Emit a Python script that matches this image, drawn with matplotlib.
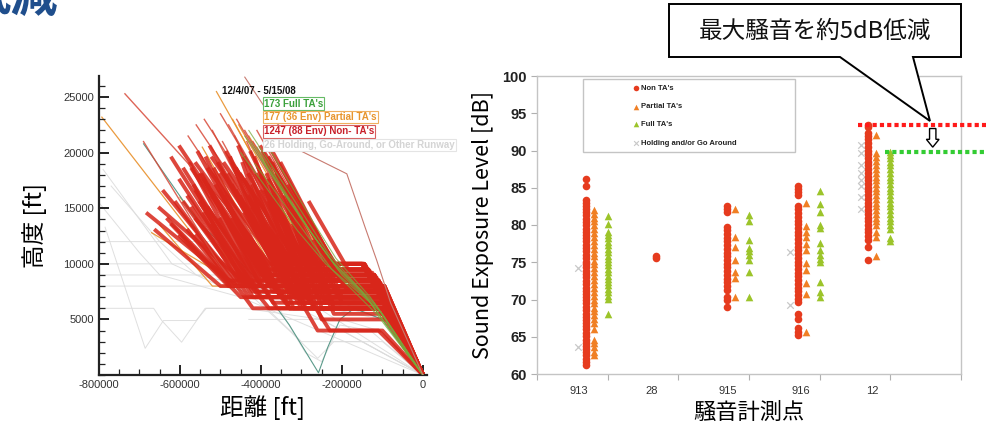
import matplotlib
matplotlib.use("Agg")
import matplotlib.pyplot as plt
from matplotlib.patches import Polygon, Rectangle
from matplotlib.ticker import MultipleLocator, FixedLocator

plt.rcParams['font.family'] = ['Liberation Sans', 'Noto Sans CJK JP', 'DejaVu Sans']
JP = ['Noto Sans CJK JP', 'DejaVu Sans']

# ---------------- data: left panel (approach trajectories, distance ft / altitude ft) -------------
# Non-TA tracks: (start dist, start alt, level-off dist, level alt, level end dist) -> then to runway
red_tracks = [
    (-620e3, 19.5e3, -420e3, 8.0e3, -100e3), (-600e3, 20.5e3, -390e3, 9.0e3, -130e3),
    (-580e3, 21.5e3, -360e3, 9.5e3, -140e3), (-560e3, 22.5e3, -330e3, 10.0e3, -150e3),
    (-540e3, 23.0e3, -310e3, 10.0e3, -145e3), (-520e3, 22.0e3, -320e3, 8.0e3, -105e3),
    (-500e3, 23.5e3, -280e3, 10.0e3, -150e3), (-480e3, 22.5e3, -270e3, 9.0e3, -120e3),
    (-460e3, 23.0e3, -250e3, 10.0e3, -140e3), (-440e3, 22.0e3, -240e3, 9.5e3, -135e3),
    (-420e3, 21.0e3, -230e3, 10.0e3, -150e3), (-400e3, 20.5e3, -220e3, 10.0e3, -145e3),
    (-380e3, 19.5e3, -215e3, 9.0e3, -125e3), (-360e3, 18.0e3, -230e3, 8.0e3, -100e3),
    (-600e3, 17.5e3, -430e3, 8.0e3, -95e3), (-590e3, 18.5e3, -410e3, 8.0e3, -100e3),
    (-575e3, 19.0e3, -400e3, 7.0e3, -105e3), (-565e3, 17.0e3, -440e3, 8.0e3, -100e3),
    (-555e3, 20.0e3, -380e3, 8.5e3, -110e3), (-545e3, 18.0e3, -400e3, 8.0e3, -95e3),
    (-535e3, 19.5e3, -370e3, 7.5e3, -100e3), (-525e3, 20.5e3, -350e3, 9.0e3, -120e3),
    (-515e3, 18.5e3, -360e3, 8.0e3, -100e3), (-505e3, 19.0e3, -340e3, 8.0e3, -105e3),
    (-495e3, 21.0e3, -320e3, 9.5e3, -130e3), (-485e3, 20.0e3, -325e3, 8.0e3, -100e3),
    (-475e3, 19.5e3, -330e3, 6.0e3, -95e3), (-465e3, 21.5e3, -300e3, 9.0e3, -125e3),
    (-455e3, 20.5e3, -300e3, 7.0e3, -100e3), (-445e3, 19.0e3, -320e3, 6.0e3, -90e3),
    (-435e3, 21.0e3, -280e3, 8.0e3, -100e3), (-425e3, 20.0e3, -270e3, 8.5e3, -110e3),
    (-415e3, 19.5e3, -280e3, 6.5e3, -95e3), (-405e3, 18.5e3, -290e3, 6.0e3, -100e3),
    (-395e3, 20.0e3, -250e3, 8.0e3, -100e3), (-385e3, 18.0e3, -260e3, 7.0e3, -100e3),
    (-375e3, 17.0e3, -270e3, 6.0e3, -95e3), (-370e3, 19.0e3, -240e3, 8.0e3, -105e3),
    (-350e3, 17.5e3, -240e3, 7.5e3, -100e3), (-340e3, 16.0e3, -250e3, 6.0e3, -90e3),
    (-650e3, 15.0e3, -430e3, 8.0e3, -100e3), (-640e3, 16.5e3, -450e3, 8.0e3, -95e3),
    (-630e3, 14.0e3, -470e3, 8.0e3, -100e3), (-660e3, 13.0e3, -500e3, 8.0e3, -100e3),
    (-620e3, 13.5e3, -450e3, 7.0e3, -105e3), (-610e3, 15.5e3, -420e3, 6.0e3, -100e3),
    (-600e3, 12.5e3, -480e3, 8.0e3, -95e3), (-680e3, 14.5e3, -460e3, 8.0e3, -100e3),
    (-736e3, 25.3e3, -330e3, 9.0e3, -130e3), (-690e3, 21.0e3, -470e3, 8.0e3, -100e3),
    (-410e3, 22.0e3, -225e3, 10.0e3, -150e3), (-390e3, 21.0e3, -210e3, 9.5e3, -140e3),
    (-370e3, 20.0e3, -205e3, 9.0e3, -120e3), (-350e3, 19.0e3, -200e3, 8.5e3, -115e3),
    (-330e3, 17.0e3, -195e3, 8.0e3, -100e3), (-560e3, 14.0e3, -380e3, 6.0e3, -100e3),
    (-530e3, 15.0e3, -360e3, 6.0e3, -110e3), (-500e3, 16.5e3, -330e3, 6.0e3, -95e3),
    (-470e3, 17.0e3, -300e3, 6.0e3, -100e3), (-450e3, 16.0e3, -260e3, 4.0e3, -100e3),
    (-420e3, 15.0e3, -230e3, 4.0e3, -110e3), (-520e3, 16.0e3, -350e3, 7.0e3, -100e3),
    (-480e3, 15.0e3, -360e3, 7.5e3, -100e3), (-440e3, 17.5e3, -310e3, 7.0e3, -95e3),
    (-400e3, 16.5e3, -280e3, 7.5e3, -100e3), (-380e3, 15.5e3, -280e3, 6.5e3, -90e3),
    (-360e3, 14.5e3, -280e3, 8.0e3, -100e3), (-340e3, 13.0e3, -250e3, 5.0e3, -85e3),
    (-300e3, 12.0e3, -220e3, 5.5e3, -90e3), (-310e3, 14.5e3, -210e3, 7.0e3, -95e3),
    # dense core
    (-570e3, 18.5e3, -400e3, 9.0e3, -130e3), (-560e3, 19.0e3, -380e3, 10.0e3, -150e3),
    (-550e3, 18.0e3, -390e3, 9.5e3, -140e3), (-540e3, 17.5e3, -390e3, 8.5e3, -110e3),
    (-530e3, 18.5e3, -360e3, 10.0e3, -145e3), (-520e3, 19.5e3, -340e3, 10.0e3, -150e3),
    (-510e3, 17.0e3, -370e3, 9.0e3, -125e3), (-500e3, 18.0e3, -340e3, 9.5e3, -135e3),
    (-490e3, 19.0e3, -320e3, 10.0e3, -150e3), (-480e3, 18.0e3, -330e3, 9.0e3, -120e3),
    (-470e3, 19.0e3, -300e3, 10.0e3, -145e3), (-460e3, 18.5e3, -310e3, 8.5e3, -110e3),
    (-450e3, 18.0e3, -300e3, 9.5e3, -140e3), (-440e3, 19.5e3, -290e3, 10.0e3, -150e3),
    (-430e3, 18.0e3, -290e3, 9.0e3, -125e3), (-420e3, 17.0e3, -300e3, 8.0e3, -100e3),
    (-410e3, 18.0e3, -270e3, 10.0e3, -145e3), (-400e3, 17.5e3, -270e3, 9.0e3, -120e3),
    (-390e3, 16.5e3, -270e3, 8.5e3, -110e3), (-380e3, 17.5e3, -250e3, 9.5e3, -140e3),
    (-580e3, 16.0e3, -420e3, 7.5e3, -100e3), (-570e3, 15.0e3, -430e3, 7.0e3, -95e3),
    (-560e3, 16.5e3, -400e3, 8.0e3, -100e3), (-590e3, 15.5e3, -440e3, 8.0e3, -100e3),
    (-550e3, 15.5e3, -410e3, 7.5e3, -100e3), (-540e3, 14.5e3, -420e3, 7.0e3, -100e3),
    (-530e3, 17.0e3, -380e3, 8.0e3, -100e3), (-510e3, 15.5e3, -370e3, 6.5e3, -95e3),
    (-490e3, 16.0e3, -350e3, 7.0e3, -100e3), (-460e3, 16.5e3, -320e3, 7.0e3, -100e3),
    (-430e3, 16.0e3, -300e3, 7.0e3, -95e3), (-580e3, 13.0e3, -470e3, 8.0e3, -100e3),
    (-560e3, 12.5e3, -480e3, 8.5e3, -110e3), (-520e3, 13.5e3, -420e3, 8.0e3, -100e3),
    (-500e3, 14.0e3, -400e3, 8.5e3, -110e3), (-470e3, 14.0e3, -380e3, 8.0e3, -100e3),
    (-440e3, 14.5e3, -340e3, 8.5e3, -110e3),
    # lower shelf zone (6000-10000 ft)
    (-470e3, 13.0e3, -340e3, 6.5e3, -95e3), (-450e3, 13.5e3, -320e3, 7.0e3, -100e3),
    (-430e3, 12.5e3, -330e3, 6.0e3, -90e3), (-410e3, 13.0e3, -300e3, 6.5e3, -95e3),
    (-400e3, 14.0e3, -290e3, 7.0e3, -100e3), (-380e3, 13.0e3, -300e3, 7.5e3, -100e3),
    (-360e3, 12.5e3, -290e3, 6.5e3, -95e3), (-350e3, 14.0e3, -260e3, 7.0e3, -100e3),
    (-330e3, 12.0e3, -270e3, 6.0e3, -90e3), (-320e3, 13.5e3, -240e3, 6.5e3, -95e3),
    (-300e3, 13.0e3, -230e3, 7.5e3, -100e3), (-290e3, 12.5e3, -220e3, 6.0e3, -85e3),
    (-280e3, 13.5e3, -200e3, 7.0e3, -90e3), (-270e3, 12.0e3, -200e3, 6.5e3, -95e3),
    (-300e3, 15.0e3, -200e3, 9.0e3, -120e3), (-290e3, 14.0e3, -190e3, 8.5e3, -110e3),
    (-280e3, 15.5e3, -185e3, 9.5e3, -135e3), (-420e3, 14.0e3, -320e3, 7.8e3, -100e3),
    (-390e3, 13.5e3, -300e3, 7.2e3, -95e3), (-360e3, 15.0e3, -270e3, 8.8e3, -115e3),
    (-330e3, 14.5e3, -250e3, 9.2e3, -125e3), (-310e3, 12.5e3, -250e3, 6.8e3, -95e3),
    (-280e3, 11.5e3, -220e3, 6.3e3, -90e3), (-260e3, 12.0e3, -190e3, 7.8e3, -100e3),
    (-250e3, 11.5e3, -180e3, 8.3e3, -105e3),
]
# Partial TA tracks (same format)
orange_tracks = [
    (-793e3, 23.2e3, -470e3, 8.0e3, -100e3), (-510e3, 25.5e3, -270e3, 10.0e3, -150e3),
    (-470e3, 23.0e3, -260e3, 9.0e3, -125e3), (-430e3, 21.5e3, -235e3, 10.0e3, -150e3),
    (-600e3, 16.0e3, -430e3, 8.0e3, -100e3), (-650e3, 13.5e3, -520e3, 8.0e3, -100e3),
    (-670e3, 12.8e3, -450e3, 8.0e3, -100e3), (-380e3, 19.0e3, -220e3, 8.0e3, -100e3),
    (-545e3, 20.5e3, -330e3, 7.0e3, -100e3), (-455e3, 22.5e3, -250e3, 9.5e3, -135e3),
]
# Full TA (continuous descent) tracks: waypoint lists
green_tracks = [
    [(-440e3, 21.5e3), (-300e3, 14.0e3), (-230e3, 10.5e3), (-140e3, 7.0e3), (0, 0)],
    [(-425e3, 21.0e3), (-290e3, 13.5e3), (-220e3, 10.0e3), (-120e3, 6.5e3), (0, 0)],
    [(-410e3, 20.5e3), (-280e3, 13.0e3), (-210e3, 9.5e3), (-110e3, 6.0e3), (0, 0)],
    [(-450e3, 20.0e3), (-310e3, 13.0e3), (-240e3, 10.0e3), (-130e3, 6.5e3), (0, 0)],
    [(-400e3, 19.5e3), (-270e3, 12.5e3), (-200e3, 9.0e3), (-100e3, 5.5e3), (0, 0)],
    [(-430e3, 22.0e3), (-305e3, 15.0e3), (-235e3, 11.0e3), (-150e3, 7.5e3), (0, 0)],
    [(-390e3, 21.0e3), (-275e3, 14.0e3), (-215e3, 10.5e3), (-130e3, 7.0e3), (0, 0)],
    [(-415e3, 19.0e3), (-285e3, 12.5e3), (-225e3, 9.5e3), (-115e3, 5.5e3), (0, 0)],
]
# Holding / go-around / other runway tracks
gray_tracks = [
    [(-800e3, 12e3), (-520e3, 12e3), (-420e3, 10e3), (-300e3, 8e3), (-100e3, 5e3), (0, 0)],
    [(-800e3, 10e3), (-390e3, 10e3), (-300e3, 8.5e3), (-120e3, 6e3), (0, 0)],
    [(-800e3, 9e3), (-480e3, 9e3), (-350e3, 8e3), (-100e3, 5e3), (0, 0)],
    [(-800e3, 8e3), (-400e3, 8e3), (-100e3, 8e3), (0, 0)],
    [(-785e3, 13.3e3), (-686e3, 2.4e3), (-641e3, 4.9e3), (-560e3, 4.9e3), (-535e3, 6e3),
     (-305e3, 6e3), (-200e3, 4e3), (0, 0)],
    [(-800e3, 6e3), (-665e3, 6e3), (-645e3, 4.9e3), (-596e3, 2.95e3), (-538e3, 6e3),
     (-440e3, 6e3), (-250e3, 5e3), (0, 0)],
    [(-790e3, 18.5e3), (-620e3, 10e3), (-500e3, 8e3), (-100e3, 5e3), (0, 0)],
    [(-770e3, 17e3), (-650e3, 12e3), (-560e3, 9e3), (-300e3, 7e3), (0, 0)],
    [(-800e3, 15.5e3), (-700e3, 11e3), (-650e3, 9e3), (-450e3, 7e3), (0, 0)],
    [(-430e3, 5e3), (-200e3, 5e3), (-110e3, 4e3), (0, 0)],
    [(-420e3, 7e3), (-330e3, 4e3), (-260e3, 1.5e3), (-220e3, 3e3), (-150e3, 3e3), (0, 0)],
    [(-400e3, 6.5e3), (-300e3, 3e3), (-100e3, 3e3), (0, 0)],
    [(-380e3, 7.5e3), (-290e3, 2e3), (-250e3, 1.2e3), (-205e3, 4.5e3), (-130e3, 4e3), (0, 0)],
]
teal_track = [(-690e3, 20.8e3), (-560e3, 14e3), (-420e3, 9e3), (-330e3, 4.5e3), (-258e3, 0.2e3),
              (-235e3, 2.5e3), (-205e3, 5e3), (-170e3, 6e3), (-100e3, 5e3), (0, 0)]
outlier_track = [(-440e3, 26.8e3), (-380e3, 23.5e3), (-304e3, 20.2e3), (-188e3, 18.1e3),
                 (-143e3, 13.3e3), (-114e3, 10.3e3), (-80e3, 6.5e3), (0, 0)]

legend_left = ["12/4/07 - 5/15/08", "173 Full TA's", "177 (36 Env) Partial TA's",
               "1247 (88 Env) Non- TA's", "26 Holding, Go-Around, or Other Runway"]

# ---------------- data: right panel (SEL dB per monitor) -------------
sites = ["913", "28", "915", "916", "12"]
non_ta = {
    "913": [61.2, 61.6, 62.0, 62.5, 62.9, 63.3, 63.8, 64.2, 64.6, 65.1, 65.5, 66.0, 66.4, 66.8, 67.3,
            67.7, 68.1, 68.6, 69.0, 69.5, 69.9, 70.3, 70.8, 71.2, 71.6, 72.1, 72.5, 73.0, 73.4, 73.8,
            74.3, 74.7, 75.1, 75.6, 76.0, 76.5, 76.9, 77.3, 77.8, 78.2, 78.6, 79.1, 79.5, 80.0, 80.4,
            80.8, 81.3, 81.7, 82.1, 82.6, 83.0, 83.3, 85.2, 86.2],
    "28": [75.6, 75.9],
    "915": [69.0, 70.0, 70.4, 71.3, 71.8, 72.3, 72.8, 73.3, 73.8, 74.3, 74.8, 75.3, 75.8, 76.3, 76.8,
            77.3, 77.8, 78.3, 78.8, 79.3, 79.7, 81.7, 82.1, 82.6],
    "916": [65.3, 65.7, 66.2, 67.4, 68.0, 69.6, 70.1, 70.6, 71.1, 71.6, 72.1, 72.6, 73.1, 73.6, 74.1,
            74.6, 75.1, 75.6, 76.1, 76.6, 77.1, 77.6, 78.1, 78.6, 79.1, 79.6, 80.1, 80.6, 81.1, 81.6,
            82.1, 82.6, 84.0, 84.4, 84.8, 85.2],
    "12": [75.3, 77.0, 78.0, 78.5, 79.0, 79.5, 80.0, 80.5, 81.0, 81.5, 82.0, 82.5, 83.0, 83.5, 84.0,
           84.5, 85.0, 85.5, 86.0, 86.5, 87.0, 87.5, 88.0, 88.5, 89.0, 89.5, 90.0, 90.5, 91.0, 91.5,
           92.0, 92.3, 93.1, 93.4],
}
partial_ta = {
    "913": [62.5, 63.0, 63.6, 64.2, 64.6, 66.1, 66.8, 67.4, 67.9, 68.4, 68.9, 69.5, 70.0, 70.5, 71.0,
            71.6, 72.1, 72.6, 73.1, 73.7, 74.2, 74.7, 75.2, 75.8, 76.3, 76.8, 77.3, 77.9, 78.4, 78.9,
            79.4, 80.0, 80.5, 81.0, 81.5, 82.0],
    "915": [70.4, 72.9, 73.7, 75.3, 77.0, 78.4, 82.2],
    "916": [65.7, 70.7, 72.2, 74.0, 74.9, 76.6, 77.5, 78.4, 79.1, 79.8, 82.9],
    "12": [75.9, 78.4, 79.0, 80.0, 80.5, 81.0, 81.5, 82.0, 82.5, 83.0, 83.5, 84.0, 84.5, 85.0, 85.5,
           86.0, 86.5, 87.0, 87.5, 88.0, 88.6, 89.1, 89.6, 92.1],
}
full_ta = {
    "913": [68.0, 70.1, 70.5, 71.0, 71.4, 71.9, 72.3, 72.8, 73.2, 73.7, 74.1, 74.6, 75.0, 75.5, 75.9,
            76.4, 76.8, 77.3, 77.7, 78.2, 78.6, 79.1, 80.2, 81.2],
    "915": [70.3, 73.7, 75.3, 76.0, 76.5, 76.9, 78.0, 80.6, 81.3],
    "916": [70.3, 71.0, 72.3, 75.0, 75.5, 76.0, 76.6, 77.6, 79.6, 80.0, 81.7, 82.8, 84.6],
    "12": [77.8, 78.2, 79.5, 80.0, 80.5, 81.0, 81.5, 82.0, 82.5, 83.0, 83.5, 84.0, 84.5, 85.0, 85.5,
           86.0, 86.5, 87.0, 87.5, 88.0, 88.5, 89.0, 89.4, 89.8],
}
holding = {
    "913": [74.2, 63.6],
    "916": [76.4, 69.3],
    "12": [90.8, 89.6, 88.1, 87.0, 86.0, 85.3, 83.8, 82.2],
}
legend_right = ["Non TA's", "Partial TA's", "Full TA's", "Holding and/or Go Around"]
callout_text = "最大騒音を約5dB低減"

# ---------------- figure -------------
W, H = 986, 428
fig = plt.figure(figsize=(W / 100, H / 100), dpi=100)


def fx(px):
    return px / W


def fy(py):
    return 1 - py / H


# title fragment at top-left (cut off slide title)
fig.text(fx(58), fy(12), "低減", ha="right", va="baseline", fontsize=34, fontweight="bold",
         color="#1f4e8c", family=JP)

# ================= LEFT PANEL =================
axL = fig.add_axes([fx(99), fy(375), fx(427) - fx(99), fy(76) - fy(375)])
axL.set_xlim(-800000, 10000)
axL.set_ylim(0, 26900)

for trk in gray_tracks:
    xs, ys = zip(*trk)
    axL.plot(xs, ys, color="#dcdcdc", lw=0.7, alpha=0.9, zorder=1)

for x0, h0, x1, lv, x2 in orange_tracks:
    axL.plot([x0, x1, x2, 0], [h0, lv, lv, 0], color="#e8902a", lw=0.9, alpha=0.9, zorder=1.5)

RED = "#d8261a"
for x0, h0, x1, lv, x2 in red_tracks:
    fringe = h0 >= 21000 or x0 < -680e3
    axL.plot([x0, x1, x2, 0], [h0, lv, lv, 0], color=RED if not fringe else "#d84a3a",
             lw=1.0 if fringe else 2.8, alpha=0.85, zorder=2, solid_joinstyle="round")
for trk in green_tracks:
    xs, ys = zip(*trk)
    axL.plot(xs, ys, color="#78a83a", lw=0.8, alpha=0.75, zorder=3)
xs, ys = zip(*teal_track)
axL.plot(xs, ys, color="#5a9a8a", lw=0.8, zorder=1.8)
xs, ys = zip(*outlier_track)
axL.plot(xs, ys, color="#c87a70", lw=0.8, zorder=3)

for s in ["top", "right"]:
    axL.spines[s].set_visible(False)
for s in ["left", "bottom"]:
    axL.spines[s].set_color("#222222")
    axL.spines[s].set_linewidth(1.6)
axL.xaxis.set_major_locator(FixedLocator([-800000, -600000, -400000, -200000, 0]))
axL.xaxis.set_minor_locator(MultipleLocator(50000))
axL.yaxis.set_major_locator(FixedLocator([5000, 10000, 15000, 20000, 25000]))
axL.yaxis.set_minor_locator(MultipleLocator(1000))
axL.tick_params(which="major", direction="in", length=7, width=1.4, color="#222222",
                labelsize=8, labelcolor="#333333")
axL.tick_params(which="minor", direction="in", length=4, width=0.9, color="#222222")
axL.set_xticklabels(["-800000", "-600000", "-400000", "-200000", "0"])
axL.set_yticklabels(["5000", "10000", "15000", "20000", "25000"])
axL.set_xlabel("距離 [ft]", family=JP, fontsize=17, labelpad=4)
axL.set_ylabel("高度 [ft]", family=JP, fontsize=17, labelpad=12)

# annotation texts
fig.text(fx(222), fy(91), legend_left[0], fontsize=7, fontweight="bold", color="#111111",
         va="center", ha="left")
box_cols = [("#3aa03a", "#66bb66"), ("#e8952e", "#f0b060"), ("#c8202a", "#d86060"),
            ("#d4d4d4", "#e4e4e4")]
box_y = [103.5, 117, 131.5, 145]
for txt, (tc, ec), yy in zip(legend_left[1:], box_cols, box_y):
    fig.text(fx(264), fy(yy), txt, fontsize=7, fontweight="bold", color=tc, va="center",
             ha="left", bbox=dict(boxstyle="square,pad=0.12", facecolor="white", edgecolor=ec,
                                  lw=0.8))

# ================= RIGHT PANEL =================
axR = fig.add_axes([fx(537), fy(374), fx(961) - fx(537), fy(76) - fy(374)])
axR.set_xlim(0, 6)
axR.set_ylim(60, 100)

off_gray, off_red, off_orange, off_green = 0.58, 0.69, 0.80, 1.0
label_pos = [0.59, 1.63, 2.70, 3.73, 4.75]
C_RED, C_OR, C_GR, C_GY = "#e63b1e", "#f07f24", "#9cc42a", "#c8c8c8"
for k, site in enumerate(sites):
    if site in holding:
        v = holding[site]
        axR.scatter([k + off_gray] * len(v), v, marker="x", s=22, color=C_GY, lw=0.9, zorder=2)
    if site in non_ta:
        v = non_ta[site]
        axR.scatter([k + off_red] * len(v), v, marker="o", s=30, color=C_RED, lw=0, zorder=3)
    if site in partial_ta:
        v = partial_ta[site]
        axR.scatter([k + off_orange] * len(v), v, marker="^", s=30, color=C_OR, lw=0, zorder=3)
    if site in full_ta:
        v = full_ta[site]
        axR.scatter([k + off_green] * len(v), v, marker="^", s=30, color=C_GR, lw=0, zorder=3)

for s in axR.spines.values():
    s.set_color("#c4c4c4")
    s.set_linewidth(1.0)
axR.set_yticks(range(60, 101, 5))
axR.tick_params(axis="y", which="major", direction="out", length=4, color="#b0b0b0",
                labelsize=10.5, labelcolor="#222222")
for lab in axR.get_yticklabels():
    lab.set_fontweight("bold")
axR.set_xticks(range(0, 7))
axR.set_xticklabels([])
axR.tick_params(axis="x", which="major", direction="out", length=4, color="#b0b0b0")
axR.set_xticks(label_pos, minor=True)
axR.set_xticklabels(sites, minor=True)
axR.tick_params(axis="x", which="minor", length=0, labelsize=8, labelcolor="#333333", pad=9)
axR.set_ylabel("Sound Exposure Level [dB]", family=JP, fontsize=15.5, labelpad=6)
axR.set_xlabel("騒音計測点", family=JP, fontsize=16, labelpad=3)

# legend box (manual, matches the wide framed legend)
axR.add_patch(Rectangle((0.108, 0.745), 0.5, 0.245, transform=axR.transAxes, facecolor="white",
                        edgecolor="#c4c4c4", lw=1.0, zorder=4))
leg_y = [0.959, 0.897, 0.838, 0.774]
leg_style = [("o", C_RED, 16), ("^", C_OR, 16), ("^", C_GR, 16), ("x", C_GY, 12)]
for txt, yy, (mk, col, sz) in zip(legend_right, leg_y, leg_style):
    axR.scatter([0.233], [yy], marker=mk, s=sz, color=col, lw=0.8 if mk == "x" else 0,
                transform=axR.transAxes, zorder=5, clip_on=False)
    axR.text(0.245, yy, txt, transform=axR.transAxes, fontsize=5.5, fontweight="bold",
             color="#222222", va="center", ha="left", zorder=5)

# dotted max-level lines
y_red_max = max(non_ta["12"])
y_green_max = max(full_ta["12"])
axR.plot([4.54, 6.4], [y_red_max, y_red_max], color="#ff1a1a", lw=3.0,
         linestyle=(0, (1.0, 0.75)), clip_on=False, zorder=6, solid_capstyle="butt")
axR.plot([4.93, 6.4], [y_green_max, y_green_max], color="#33cc33", lw=3.0,
         linestyle=(0, (1.0, 0.75)), clip_on=False, zorder=6)

# hollow down arrow
ax_c = 5.60
arrow = Polygon([(ax_c - 0.045, 92.95), (ax_c + 0.045, 92.95), (ax_c + 0.045, 91.5),
                 (ax_c + 0.09, 91.5), (ax_c, 90.45), (ax_c - 0.09, 91.5), (ax_c - 0.045, 91.5)],
                closed=True, facecolor="white", edgecolor="black", lw=1.0, zorder=7,
                clip_on=False)
axR.add_patch(arrow)

# callout box with pointer
pts = [(669, 4), (961, 4), (961, 57), (913, 57), (930, 121), (840, 57), (669, 57)]
callout = Polygon([(fx(x), fy(y)) for x, y in pts], closed=True, transform=fig.transFigure,
                  facecolor="white", edgecolor="black", lw=1.4, zorder=10)
fig.add_artist(callout)
fig.text(fx(815), fy(31), callout_text, family=JP, fontsize=17, ha="center", va="center",
         color="#111111", zorder=11)

fig.savefig("out.png", dpi=100)
